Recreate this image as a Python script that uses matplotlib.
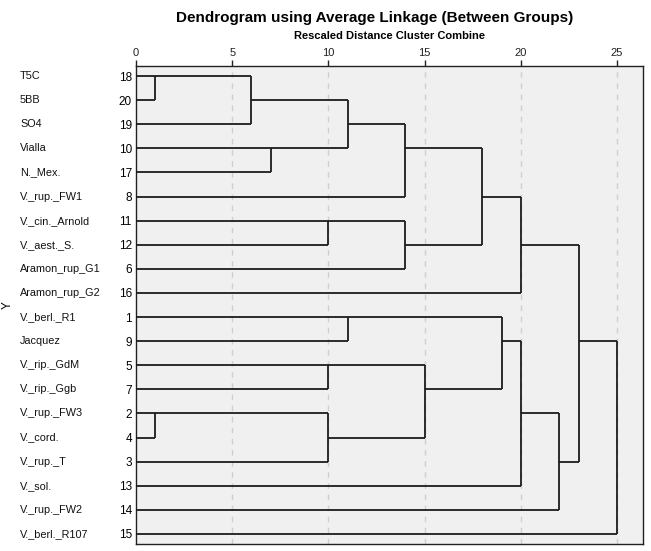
import matplotlib
matplotlib.use('Agg')
import matplotlib.pyplot as plt
from matplotlib.transforms import blended_transform_factory

plt.rcParams['font.family'] = ['Liberation Sans', 'DejaVu Sans']

# leaves in display order (top to bottom)
names = ['T5C', '5BB', 'SO4', 'Vialla', 'N._Mex.', 'V._rup._FW1', 'V._cin._Arnold',
         'V._aest._S.', 'Aramon_rup_G1', 'Aramon_rup_G2', 'V._berl._R1', 'Jacquez',
         'V._rip._GdM', 'V._rip._Ggb', 'V._rup._FW3', 'V._cord.', 'V._rup._T',
         'V._sol.', 'V._rup._FW2', 'V._berl._R107']
case_ids = [18, 20, 19, 10, 17, 8, 11, 12, 6, 16, 1, 9, 5, 7, 2, 4, 3, 13, 14, 15]

# merges: (first, second, rescaled distance); ints are leaf rows, 'mN' = merge N
merges = [
    (0, 1, 1.0),        # m0
    ('m0', 2, 6.0),     # m1
    (3, 4, 7.0),        # m2
    ('m1', 'm2', 11.0), # m3
    ('m3', 5, 14.0),    # m4
    (6, 7, 10.0),       # m5
    ('m5', 8, 14.0),    # m6
    ('m4', 'm6', 18.0), # m7
    ('m7', 9, 20.0),    # m8
    (12, 13, 10.0),     # m9
    (14, 15, 1.0),      # m10
    ('m10', 16, 10.0),  # m11
    ('m9', 'm11', 15.0),  # m12
    (10, 11, 11.0),     # m13
    ('m13', 'm12', 19.0),  # m14
    ('m14', 17, 20.0),  # m15
    ('m15', 18, 22.0),  # m16
    ('m8', 'm16', 23.0),  # m17
    ('m17', 19, 25.0),  # m18
]

fig = plt.figure(figsize=(6.51, 5.51), dpi=100)
ax = fig.add_axes([136 / 651, 1 - 544 / 551, 507 / 651, 478 / 551])
ax.set_facecolor('#f0f0f0')

line_col = '#1c1c1c'
nodes = {}  # key -> (row, x)


def get(key):
    if isinstance(key, str):
        return nodes[key]
    return (key, 0.0)


for i, (a, b, d) in enumerate(merges):
    ra, xa = get(a)
    rb, xb = get(b)
    ax.plot([xa, d], [ra, ra], color=line_col, lw=1.3, solid_capstyle='butt', zorder=3)
    ax.plot([xb, d], [rb, rb], color=line_col, lw=1.3, solid_capstyle='butt', zorder=3)
    ax.plot([d, d], [ra, rb], color=line_col, lw=1.3, solid_capstyle='butt', zorder=3)
    # SPSS puts the joined cluster on the (upper) middle row
    nodes['m%d' % i] = ((ra + rb) // 2, d)

for g in [5, 10, 15, 20, 25]:
    ax.axvline(g, color='#cfcfcf', lw=1.0, ls=(0, (4, 4)), zorder=1)

ax.set_xlim(0, 26.35)
ax.set_ylim(len(names) - 1 + 0.42, -0.42)

ax.xaxis.tick_top()
ax.set_xticks([0, 5, 10, 15, 20, 25])
ax.tick_params(axis='x', direction='out', length=4, width=1, pad=2, labelsize=8, colors='#222222')
ax.set_yticks(range(len(names)))
ax.set_yticklabels([str(c) for c in case_ids], fontsize=8.5)
ax.tick_params(axis='y', length=0, pad=3)

for sp in ax.spines.values():
    sp.set_color('#222222')
    sp.set_linewidth(1.0)

name_tr = blended_transform_factory(fig.transFigure, ax.transData)
for i, n in enumerate(names):
    ax.text(20 / 651, i, n, transform=name_tr, ha='left', va='center',
            fontsize=7.8, color='#111111')

fig.text(8 / 651, 1 - 305 / 551, 'Y', rotation=90, ha='center', va='center', fontsize=8.5)
fig.text(389 / 651, 1 - 36 / 551, 'Rescaled Distance Cluster Combine', ha='center', va='center',
         fontsize=8, fontweight='bold')
fig.text(375 / 651, 1 - 18 / 551, 'Dendrogram using Average Linkage (Between Groups)',
         ha='center', va='center', fontsize=11, fontweight='bold')

fig.savefig('out.png', dpi=100, facecolor='white')
